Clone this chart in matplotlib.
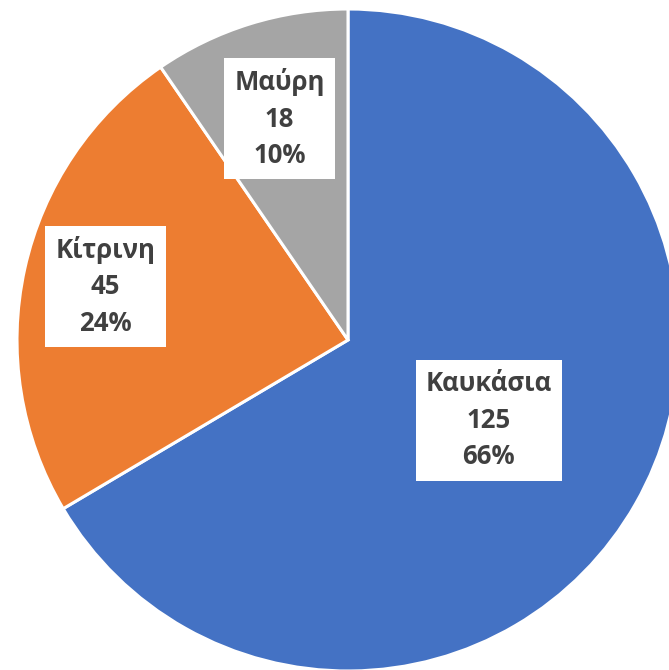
import numpy as np
import matplotlib
matplotlib.use("Agg")
import matplotlib.pyplot as plt

plt.rcParams['font.family'] = ['Open Sans', 'DejaVu Sans']

labels = ['Καυκάσια', 'Κίτρινη', 'Μαύρη']
values = [125, 45, 18]
colors = ['#4472C4', '#ED7D31', '#A5A5A5']
label_r = [0.49, 0.75, 0.70]

W, H = 669, 670
cx, cy, R = 348, 340, 331

fig = plt.figure(figsize=(W / 100, H / 100), dpi=100)
ax = fig.add_axes([0, 0, 1, 1])
wedges, _ = ax.pie(values, colors=colors, startangle=90, counterclock=False,
                   radius=1, wedgeprops=dict(edgecolor='white', linewidth=2.2))
ax.set_xlim(-cx / R, (W - cx) / R)
ax.set_ylim(-(H - cy) / R, cy / R)
ax.set_aspect('auto')
ax.set_axis_off()

total = sum(values)
for w, lab, v, r in zip(wedges, labels, values, label_r):
    ang = np.deg2rad((w.theta1 + w.theta2) / 2)
    ax.text(r * np.cos(ang), r * np.sin(ang),
            f"{lab}\n{v}\n{v / total * 100:.0f}%",
            ha='center', va='center', fontsize=18.5, fontweight='bold',
            color='#404040', linespacing=1.45,
            bbox=dict(boxstyle='square,pad=0.4', fc='white', ec='none'))

fig.savefig('out.png', dpi=100)
